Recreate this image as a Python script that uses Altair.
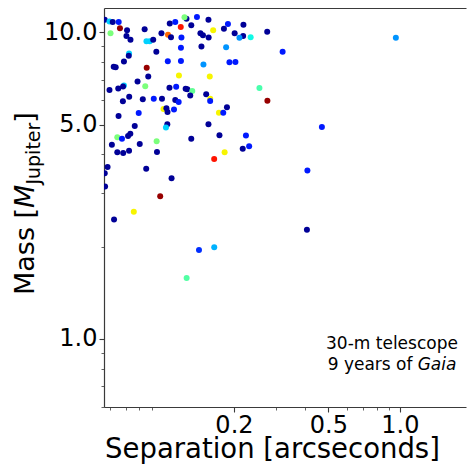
import altair as alt
import pandas as pd

FONT = "DejaVu Sans"

# Angular separation [arcsec], planet mass [M_Jupiter] and the colour variable (0..1, jet map)
separation = [
    0.0571, 0.0598, 0.0617, 0.0654, 0.0604, 0.0662, 0.0709, 0.0705, 0.0733, 0.0841,
    0.0856, 0.0884, 0.0914, 0.0942, 0.0723, 0.0721, 0.0688, 0.0623, 0.0635, 0.0858,
    0.0871, 0.0785, 0.0990, 0.1055, 0.1073, 0.1132, 0.1194, 0.1262, 0.1238, 0.1322,
    0.1086, 0.1202, 0.1196, 0.1196, 0.1053, 0.1173, 0.1397, 0.1562, 0.1635, 0.1445,
    0.1481, 0.1565, 0.1459, 0.1488, 0.1582, 0.1815, 0.1887, 0.2193, 0.2014, 0.2187,
    0.2110, 0.2352, 0.2762, 0.1854, 0.1915, 0.2029, 0.3207, 0.9620, 0.2561, 0.2767,
    0.0846, 0.0688, 0.0682, 0.0651, 0.0598, 0.1070, 0.1142, 0.1252, 0.1272, 0.1335,
    0.1309, 0.1528, 0.1589, 0.1588, 0.0724, 0.0681, 0.0826, 0.0919, 0.0995, 0.1132,
    0.1170, 0.0794, 0.0653, 0.1010, 0.1039, 0.1050, 0.1118, 0.1869, 0.1729, 0.1803,
    0.0764, 0.1048, 0.1034, 0.1562, 0.0645, 0.0675, 0.0716, 0.0732, 0.0612, 0.0802,
    0.0945, 0.0645, 0.0683, 0.0723, 0.0948, 0.1322, 0.1738, 0.2247, 0.2318, 0.2178,
    0.1827, 0.1651, 0.4695, 0.0587, 0.0571, 0.0573, 0.0854, 0.1092, 0.0978, 0.0757,
    0.0625, 0.4079, 0.4060, 0.1425, 0.1652, 0.1264,
]
mass = [
    10.98, 10.84, 10.80, 10.80, 9.93, 10.30, 10.16, 9.73, 9.45, 10.23,
    9.35, 9.35, 9.45, 8.64, 8.53, 8.39, 8.03, 7.72, 7.69, 7.66,
    7.17, 6.91, 9.93, 9.82, 10.68, 10.80, 10.41, 11.07, 11.19, 10.55,
    9.64, 9.62, 8.91, 8.06, 8.04, 7.23, 11.22, 10.98, 10.16, 9.93,
    9.78, 9.62, 8.99, 7.85, 7.18, 10.27, 10.64, 10.58, 9.93, 9.73,
    9.59, 9.63, 10.04, 8.93, 7.98, 8.00, 8.64, 9.60, 6.58, 5.98,
    6.67, 6.71, 6.65, 6.56, 6.48, 6.60, 6.64, 6.55, 6.52, 6.43,
    6.22, 6.28, 6.07, 5.97, 6.16, 5.96, 6.05, 6.07, 6.07, 6.02,
    5.93, 5.46, 5.33, 5.62, 5.65, 5.50, 5.60, 5.70, 5.47, 5.47,
    4.95, 5.01, 4.89, 5.01, 4.55, 4.50, 4.59, 4.67, 4.30, 4.32,
    4.41, 4.06, 4.04, 4.11, 4.07, 4.50, 4.62, 4.61, 4.25, 4.17,
    4.06, 3.86, 4.91, 3.64, 3.47, 3.14, 3.59, 3.34, 2.92, 2.60,
    2.45, 3.54, 2.27, 1.95, 1.99, 1.58,
]
colour_value = [
    0.02, 0.33, 0.02, 0.15, 0.50, 0.98, 0.02, 0.02, 0.02, 0.02,
    0.33, 0.33, 0.02, 0.02, 0.33, 0.02, 0.02, 0.02, 0.02, 0.98,
    0.02, 0.02, 0.02, 0.80, 0.02, 0.15, 0.89, 0.02, 0.50, 0.02,
    0.02, 0.15, 0.15, 0.15, 0.15, 0.65, 0.15, 0.02, 0.65, 0.02,
    0.02, 0.02, 0.02, 0.27, 0.65, 0.02, 0.15, 0.02, 0.02, 0.02,
    0.27, 0.37, 0.02, 0.27, 0.15, 0.15, 0.15, 0.27, 0.44, 0.98,
    0.50, 0.33, 0.02, 0.02, 0.02, 0.02, 0.15, 0.02, 0.02, 0.47,
    0.02, 0.02, 0.65, 0.15, 0.02, 0.02, 0.02, 0.15, 0.02, 0.02,
    0.15, 0.15, 0.02, 0.65, 0.02, 0.02, 0.15, 0.02, 0.65, 0.15,
    0.02, 0.02, 0.33, 0.02, 0.50, 0.15, 0.02, 0.02, 0.02, 0.02,
    0.50, 0.02, 0.02, 0.02, 0.02, 0.02, 0.02, 0.15, 0.15, 0.02,
    0.65, 0.89, 0.15, 0.02, 0.02, 0.02, 0.02, 0.02, 0.98, 0.65,
    0.02, 0.15, 0.02, 0.17, 0.30, 0.45,
]

# Tick positions
major_x = [0.2, 0.5, 1.0]
minor_x = [0.06, 0.07, 0.08, 0.09, 0.3, 0.4, 0.6, 0.7, 0.8, 0.9]
major_y = [1.0, 5.0, 10.0]
minor_y = [0.6, 0.7, 0.8, 0.9, 2, 3, 4, 6, 7, 8, 9]

# matplotlib "jet" colormap break points
jet_stops = [0, 0.11, 0.125, 0.34, 0.35, 0.375, 0.64, 0.65, 0.66, 0.89, 0.91, 1]
jet_colours = ["#000080", "#0000ff", "#0000ff", "#00dbff", "#00e5f7", "#14ffe2",
               "#eeff08", "#f7f500", "#ffec00", "#ff1300", "#e80000", "#800000"]

df = pd.DataFrame({"sep": separation, "mass": mass, "c": colour_value})

W, H = 362, 399
SPINE = "#3a3a3a"

xs = alt.Scale(type="log", domain=[0.0567, 1.9], nice=False)
ys = alt.Scale(type="log", domain=[0.6, 12.0], nice=False)

points = alt.Chart(df).mark_circle(size=36, opacity=1, clip=True).encode(
    x=alt.X("sep:Q", scale=xs, axis=alt.Axis(
        orient="bottom", values=major_x, format=".1f", tickSize=5, tickWidth=1.1,
        tickColor=SPINE, domainColor=SPINE, domainWidth=1.2, grid=False,
        labelFont=FONT, labelFontSize=24, labelColor="#000", labelPadding=1,
        labelFlush=False, labelOverlap=False,
        title="Separation [arcseconds]", titleFont=FONT, titleFontSize=27.5,
        titleFontWeight="normal", titleColor="#000", titleBaseline="alphabetic",
        titleY=50, titleX=168)),
    y=alt.Y("mass:Q", scale=ys, axis=alt.Axis(
        orient="left", values=major_y, format=".1f", tickSize=5, tickWidth=1.1,
        tickColor=SPINE, domainColor=SPINE, domainWidth=1.2, grid=False,
        labelFont=FONT, labelFontSize=24, labelColor="#000", labelPadding=2,
        labelFlush=False, labelOverlap=False, title=None)),
    color=alt.Color("c:Q", scale=alt.Scale(domain=jet_stops, range=jet_colours,
                                           interpolate="rgb"), legend=None),
)

minor_ticks = alt.Chart(df).mark_circle(opacity=0).encode(
    x=alt.X("sep:Q", scale=xs, axis=alt.Axis(
        orient="bottom", values=minor_x, labels=False, tickSize=3, tickWidth=0.8,
        tickColor=SPINE, domain=False, grid=False, title=None)),
    y=alt.Y("mass:Q", scale=ys, axis=alt.Axis(
        orient="left", values=minor_y, labels=False, tickSize=3, tickWidth=0.8,
        tickColor=SPINE, domain=False, grid=False, title=None)),
)

top_spine = alt.Chart(df).mark_circle(opacity=0).encode(
    x=alt.X("sep:Q", scale=xs, axis=alt.Axis(
        orient="top", labels=False, ticks=False, grid=False, title=None,
        domainColor=SPINE, domainWidth=1.2)),
    y=alt.Y("mass:Q", scale=ys, axis=None),
)


def label(text, x, y, size, angle=0, align="left", style="normal"):
    return alt.Chart(pd.DataFrame({"t": [text]})).mark_text(
        align=align, baseline="alphabetic", font=FONT, fontSize=size,
        fontStyle=style, angle=angle, color="#000",
    ).encode(x=alt.value(x), y=alt.value(y), text="t:N")


# y-axis title: Mass [M_Jupiter], with italic M and subscript
ytitle = [
    label("Mass [", -70.5, 287, 27, angle=270),
    label("M", -70.5, 199.9, 27, angle=270, style="italic"),
    label("Jupiter", -64, 176.6, 19, angle=270),
    label("]", -70.5, 114.7, 27, angle=270),
]

note = [
    label("30-m telescope", 288, 341, 17, align="center"),
    label("9 years of", 308.5, 362, 17, align="right"),
    label("Gaia", 313.7, 362, 17, style="italic"),
]

chart = alt.layer(minor_ticks, top_spine, points, *ytitle, *note).resolve_axis(
    x="independent", y="independent"
).properties(
    width=W, height=H,
    autosize=alt.AutoSizeParams(type="none"),
    padding={"left": 104, "top": 8, "right": 1, "bottom": 57},
    background="white",
).configure_view(stroke=None)

chart.save("out.html", embed_options={"renderer": "svg", "actions": False})
